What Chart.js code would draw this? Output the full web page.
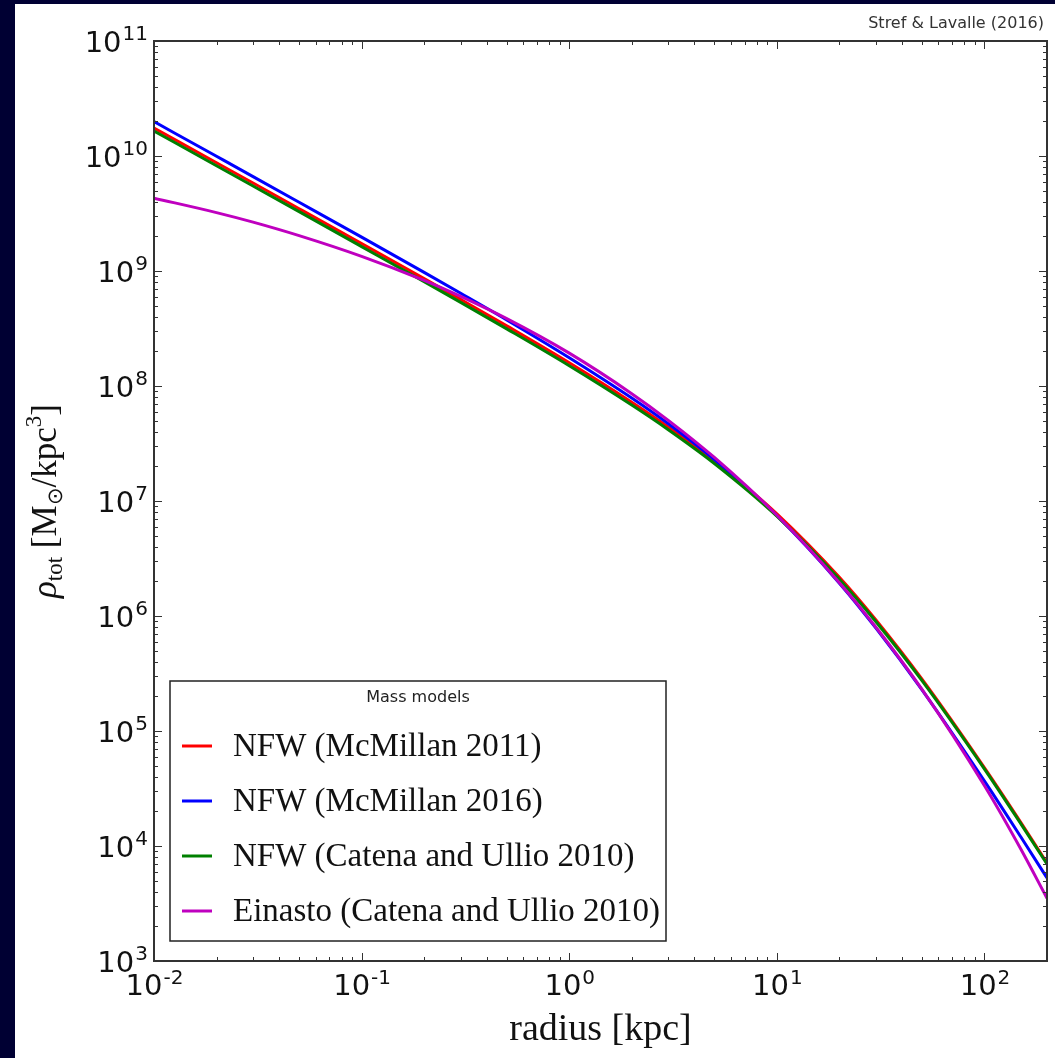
<!DOCTYPE html>
<html>
<head>
<meta charset="utf-8">
<script src="https://cdn.jsdelivr.net/npm/chart.js@4.4.0/dist/chart.umd.min.js"></script>
<style>
html, body { margin: 0; padding: 0; width: 1055px; height: 1058px; overflow: hidden; background: #000033; }
#sheet { position: absolute; left: 15px; top: 4px; width: 1040px; height: 1054px; background: #fff; }
#densityChart { position: absolute; left: 0; top: 0; }
#credit { position: absolute; right: 11px; top: 9px; font: 16px 'DejaVu Sans', sans-serif; color: #333; }
</style>
</head>
<body>
<div id="sheet">
  <canvas id="densityChart" width="1040" height="1054"></canvas>
  <div id="credit">Stref &amp; Lavalle (2016)</div>
</div>
<script>
// Data (radius in kpc, density in Msun/kpc^3)
const radius = [0.01, 0.02, 0.03, 0.05, 0.1, 0.2, 0.3, 0.5, 1, 2, 3, 5, 10, 20, 30, 50, 100, 150, 200];
const nfwMcMillan2011 = [1.75e10, 8.73e9, 5.82e9, 3.48e9, 1.73e9, 8.58e8, 5.66e8, 3.33e8, 1.59e8, 7.22e7, 4.40e7, 2.23e7, 7.73e6, 2.17e6, 9.22e5, 2.82e5, 4.78e4, 1.59e4, 7.10e3];
const nfwMcMillan2016 = [1.99e10, 9.94e9, 6.62e9, 3.96e9, 1.97e9, 9.72e8, 6.40e8, 3.75e8, 1.76e8, 7.85e7, 4.69e7, 2.29e7, 7.44e6, 1.93e6, 7.84e5, 2.28e5, 3.67e4, 1.19e4, 5.28e3];
const nfwCatenaUllio = [1.65e10, 8.23e9, 5.48e9, 3.28e9, 1.63e9, 8.09e8, 5.34e8, 3.14e8, 1.50e8, 6.83e7, 4.17e7, 2.12e7, 7.39e6, 2.09e6, 8.92e5, 2.74e5, 4.67e4, 1.55e4, 6.97e3];
const einastoCatenaUllio = [4.30e9, 3.22e9, 2.66e9, 2.03e9, 1.34e9, 8.28e8, 6.01e8, 3.85e8, 1.93e8, 8.58e7, 5.03e7, 2.39e7, 7.51e6, 1.95e6, 7.99e5, 2.30e5, 3.34e4, 9.32e3, 3.51e3];

const seriesLabels = ['NFW (McMillan 2011)', 'NFW (McMillan 2016)', 'NFW (Catena and Ullio 2010)', 'Einasto (Catena and Ullio 2010)'];
const seriesColors = ['#ff0000', '#0000ff', '#008000', '#bf00bf'];

// Tick labels (base^exponent)
const xTickValues = [0.01, 0.1, 1, 10, 100];
const xTickLabels = ['10^-2', '10^-1', '10^0', '10^1', '10^2'];
const yTickValues = [1e3, 1e4, 1e5, 1e6, 1e7, 1e8, 1e9, 1e10, 1e11];
const yTickLabels = ['10^3', '10^4', '10^5', '10^6', '10^7', '10^8', '10^9', '10^10', '10^11'];

const toPoints = values => radius.map((r, i) => ({ x: r, y: values[i] }));
const allSeries = [nfwMcMillan2011, nfwMcMillan2016, nfwCatenaUllio, einastoCatenaUllio];

const baseFont = '29px "DejaVu Sans"';
const expFont = '20px "DejaVu Sans"';

// draws "10" with a raised exponent; align is 'center' or 'right'
function drawPowerLabel(ctx, label, x, baseline, align) {
    const [base, exp] = label.split('^');
    ctx.font = baseFont;
    const wb = ctx.measureText(base).width;
    ctx.font = expFont;
    const we = ctx.measureText(exp).width;
    const left = align === 'right' ? x - wb - we : x - (wb + we) / 2;
    ctx.font = baseFont;
    ctx.fillText(base, left, baseline);
    ctx.font = expFont;
    ctx.fillText(exp, left + wb + 1, baseline - 11.5);
}

// inward ticks on all four sides + frame + labels, matplotlib style
const axisFrame = {
    id: 'axisFrame',
    afterDatasetsDraw(chart) {
        const { ctx, chartArea: a, scales: { x, y } } = chart;
        ctx.save();
        ctx.strokeStyle = '#333';
        ctx.lineWidth = 1;
        ctx.beginPath();
        for (let e = -2; e <= 2; e++) {
            for (let m = 1; m <= 9; m++) {
                const v = m * Math.pow(10, e);
                if (v < x.min || v > x.max * 1.0001) continue;
                const px = Math.round(x.getPixelForValue(v)) + 0.5;
                const len = m === 1 ? 8 : 4;
                ctx.moveTo(px, a.bottom); ctx.lineTo(px, a.bottom - len);
                ctx.moveTo(px, a.top); ctx.lineTo(px, a.top + len);
            }
        }
        for (let e = 3; e <= 11; e++) {
            for (let m = 1; m <= 9; m++) {
                const v = m * Math.pow(10, e);
                if (v > y.max * 1.0001) continue;
                const py = Math.round(y.getPixelForValue(v)) + 0.5;
                const len = m === 1 ? 8 : 4;
                ctx.moveTo(a.left, py); ctx.lineTo(a.left + len, py);
                ctx.moveTo(a.right, py); ctx.lineTo(a.right - len, py);
            }
        }
        ctx.stroke();
        ctx.lineWidth = 2;
        ctx.strokeRect(a.left, a.top, a.right - a.left, a.bottom - a.top);

        // tick labels
        ctx.fillStyle = '#111';
        ctx.textAlign = 'left';
        ctx.textBaseline = 'alphabetic';
        xTickValues.forEach((v, i) => drawPowerLabel(ctx, xTickLabels[i], x.getPixelForValue(v), a.bottom + 34, 'center'));
        yTickValues.forEach((v, i) => drawPowerLabel(ctx, yTickLabels[i], a.left - 7, y.getPixelForValue(v) + 10.5, 'right'));
        ctx.restore();
    },
    afterDraw(chart) {
        const ctx = chart.ctx;
        const a = chart.chartArea;
        ctx.save();

        // legend box
        const box = { left: 155, top: 677, right: 651, bottom: 937 };
        ctx.fillStyle = '#fff';
        ctx.fillRect(box.left, box.top, box.right - box.left, box.bottom - box.top);
        ctx.strokeStyle = '#222';
        ctx.lineWidth = 1.5;
        ctx.strokeRect(box.left, box.top, box.right - box.left, box.bottom - box.top);
        ctx.fillStyle = '#222';
        ctx.font = '16px "DejaVu Sans"';
        ctx.textAlign = 'center';
        ctx.textBaseline = 'middle';
        ctx.fillText('Mass models', (box.left + box.right) / 2, 694);
        ctx.textAlign = 'left';
        ctx.font = '33px "Liberation Serif"';
        chart.data.datasets.forEach((ds, i) => {
            const yy = 742 + i * 55;
            ctx.strokeStyle = ds.borderColor;
            ctx.lineWidth = 3;
            ctx.beginPath();
            ctx.moveTo(167, yy); ctx.lineTo(197, yy);
            ctx.stroke();
            ctx.fillStyle = '#111';
            ctx.fillText(ds.label, 218, yy + 1);
        });

        // y axis title with sub/superscripts
        const parts = [
            { t: '\u03C1', size: 35, dy: 0, italic: true },
            { t: 'tot', size: 23, dy: 6 },
            { t: ' [M', size: 35, dy: 0 },
            { t: '\u2299', size: 21, dy: 6 },
            { t: '/kpc', size: 35, dy: 0 },
            { t: '3', size: 23, dy: -15 },
            { t: ']', size: 35, dy: 0 }
        ];
        const fontOf = p => (p.italic ? 'italic ' : '') + p.size + 'px "Liberation Serif"';
        let total = 0;
        parts.forEach(p => { ctx.font = fontOf(p); p.w = ctx.measureText(p.t).width; total += p.w; });
        ctx.translate(41, (a.top + a.bottom) / 2);
        ctx.rotate(-Math.PI / 2);
        ctx.textAlign = 'left';
        ctx.textBaseline = 'alphabetic';
        ctx.fillStyle = '#111';
        let cx = -total / 2;
        parts.forEach(p => { ctx.font = fontOf(p); ctx.fillText(p.t, cx, p.dy); cx += p.w; });
        ctx.restore();
    }
};

const chart = new Chart(document.getElementById('densityChart'), {
    type: 'line',
    data: {
        datasets: allSeries.map((values, i) => ({
            label: seriesLabels[i],
            data: toPoints(values),
            borderColor: seriesColors[i],
            borderWidth: 3,
            pointRadius: 0,
            fill: false,
            cubicInterpolationMode: 'monotone',
            order: 4 - i
        }))
    },
    options: {
        responsive: false,
        animation: false,
        devicePixelRatio: 1,
        layout: { padding: { top: 37, right: 8, left: 0, bottom: 0 } },
        plugins: { legend: { display: false }, tooltip: { enabled: false } },
        scales: {
            x: {
                type: 'logarithmic',
                min: 0.01,
                max: 200,
                grid: { display: false, drawTicks: false },
                border: { display: false },
                afterBuildTicks: s => { s.ticks = xTickValues.map(v => ({ value: v })); },
                afterFit: s => { s.height = 97; },
                ticks: { display: false },
                title: {
                    display: true,
                    text: 'radius [kpc]',
                    color: '#111',
                    font: { family: 'Liberation Serif', size: 38 },
                    padding: { top: 4, bottom: 5 }
                }
            },
            y: {
                type: 'logarithmic',
                min: 1e3,
                max: 1e11,
                grid: { display: false, drawTicks: false },
                border: { display: false },
                afterBuildTicks: s => { s.ticks = yTickValues.map(v => ({ value: v })); },
                afterFit: s => { s.width = 139; },
                ticks: { display: false }
            }
        }
    },
    plugins: [axisFrame]
});
</script>
</body>
</html>
